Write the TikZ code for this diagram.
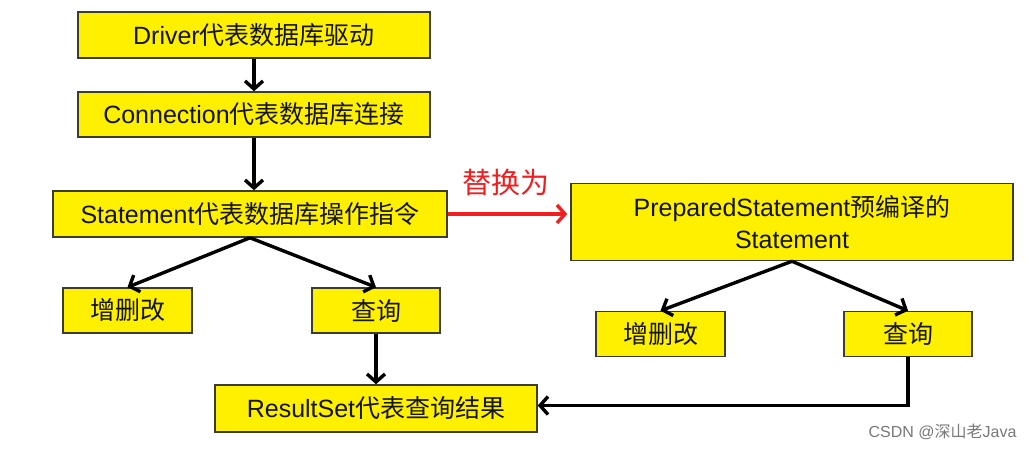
\documentclass[tikz,border=0pt]{standalone}
\usepackage{fontspec}
\setmainfont{Liberation Sans}
\newfontfamily\cjk{Noto Sans CJK SC}
\newcommand\zh[1]{{\cjk #1}}
\usetikzlibrary{arrows.meta}
\definecolor{boxyellow}{RGB}{255,240,0}
\definecolor{boxedge}{RGB}{60,60,50}
\definecolor{textdark}{RGB}{20,20,20}
\definecolor{redarrow}{RGB}{240,30,30}
\begin{document}
\begin{tikzpicture}[x=1pt,y=-1pt,
  box/.style={draw=boxedge, line width=1.5pt, fill=boxyellow, inner sep=0pt,
    font=\fontsize{25}{32}\selectfont, text=textdark, align=center},
  arr/.style={line width=3.4pt, draw=black, -{Straight Barb[length=8pt,width=18pt]}},
  redarr/.style={line width=3.4pt, draw=redarrow, -{Straight Barb[length=8pt,width=18pt]}}]
\useasboundingbox (0,0) rectangle (1033,451);
\fill[white] (0,0) rectangle (1033,451);

\node[box, minimum width=352pt, minimum height=46pt] (drv) at (254,35) {Driver\zh{代表数据库驱动}};
\node[box, minimum width=352pt, minimum height=45pt] (con) at (254,114.5) {Connection\zh{代表数据库连接}};
\node[box, minimum width=394pt, minimum height=46pt] (stm) at (250,214) {Statement\zh{代表数据库操作指令}};
\node[box, minimum width=442pt, minimum height=77pt] (prep) at (792,222) {PreparedStatement\zh{预编译的}\\Statement};
\node[box, minimum width=129pt, minimum height=45pt] (cud1) at (127.5,310.5) {\zh{增删改}};
\node[box, minimum width=128pt, minimum height=45pt] (qry1) at (376,310.5) {\zh{查询}};
\node[box, minimum width=322pt, minimum height=47pt] (rs) at (376,408.5) {ResultSet\zh{代表查询结果}};
\node[box, minimum width=129pt, minimum height=45pt] (cud2) at (660.5,334) {\zh{增删改}};
\node[box, minimum width=128pt, minimum height=45pt] (qry2) at (908,334) {\zh{查询}};

\node[text=redarrow, font=\cjk\fontsize{29}{31}\selectfont] (rep) at (506,182) {替换为};
\node[text={rgb,255:red,120;green,120;blue,120}, font=\fontsize{16}{18}\selectfont, anchor=east] (wm) at (1020,432) {CSDN @\zh{深山老}Java};

\draw[arr] (drv.south) -- (drv.south |- con.north);
\draw[arr] (con.south) -- (con.south |- stm.north);
\draw[arr] (stm.south) -- (cud1.north);
\draw[arr] (stm.south) -- (qry1.north);
\draw[arr] (qry1.south) -- (qry1.south |- rs.north);
\draw[redarr] (stm.east) -- ([xshift=-3pt]stm.east -| prep.west);
\draw[arr] (prep.south) -- (cud2.north);
\draw[arr] (prep.south) -- (qry2.north);
\draw[arr] (qry2.south) |- ([yshift=3pt]rs.east);
\end{tikzpicture}
\end{document}
